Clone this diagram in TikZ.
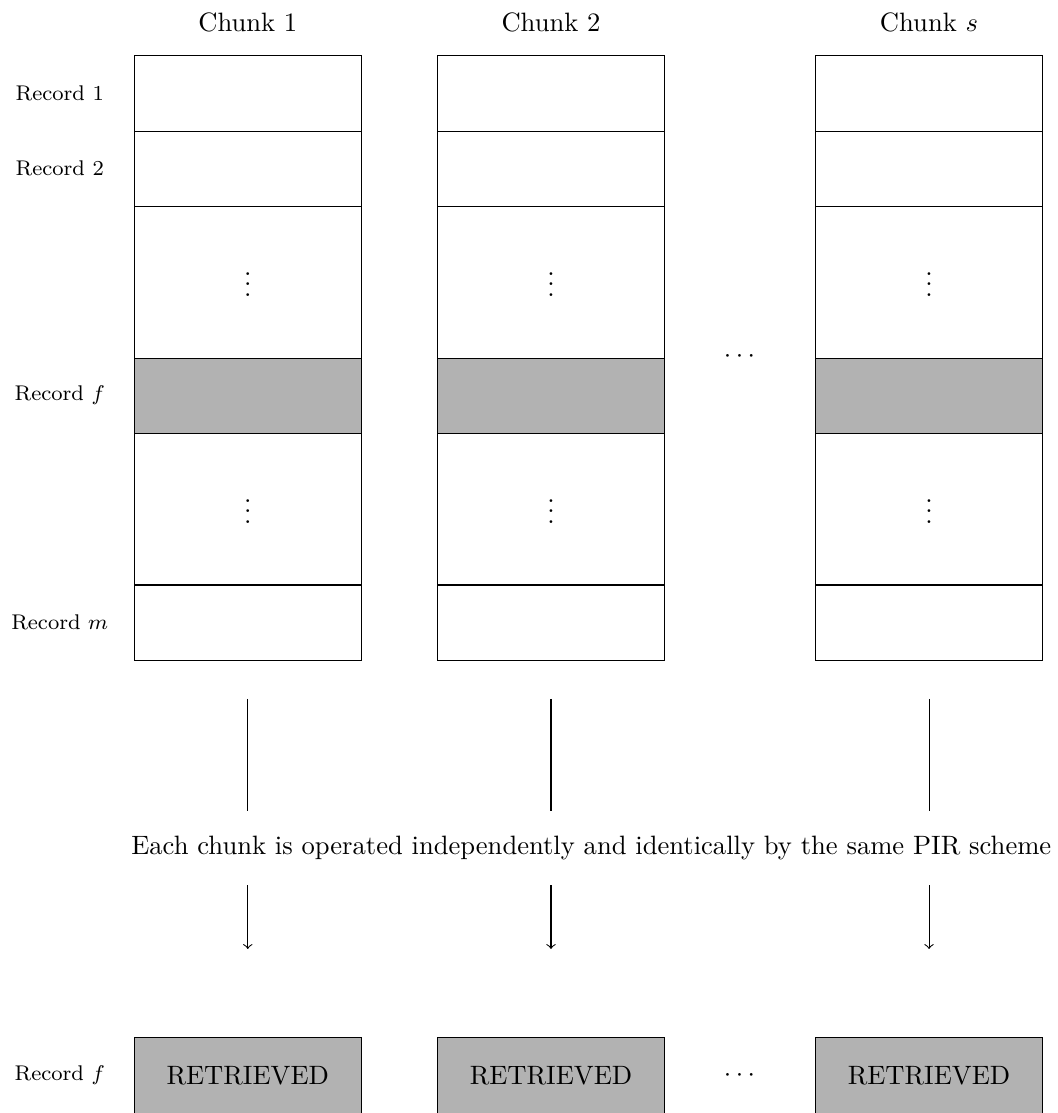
\documentclass[tikz,border=0pt]{standalone}
\usetikzlibrary{positioning,calc}
\begin{document}
\begin{tikzpicture}[
  cell/.style={draw=black, minimum width=3cm, minimum height=#1cm, inner sep=0pt, anchor=north west},
  cell/.default=1,
  hit/.style={fill=black!30},
  reclabel/.style={font=\footnotesize},
  conn/.style={draw=black, line width=0.4pt}
]
\useasboundingbox (0,0) rectangle (13.98,-14.72);

% columns
\foreach \c/\x in {1/1.77, 2/5.78, 3/10.78} {
  \node[cell=1] (c\c r1) at (\x,-0.73) {};
  \node[cell=1] (c\c r2) at (\x,-1.73) {};
  \node[cell=2] (c\c r3) at (\x,-2.73) {};
  \node[cell=1, hit] (c\c r4) at (\x,-4.73) {};
  \node[cell=2] (c\c r5) at (\x,-5.73) {};
  \node[cell=1] (c\c r6) at (\x,-7.73) {};
  \node[cell=1, hit] (c\c res) at (\x,-13.72) {RETRIEVED};
  \node[inner sep=0pt] (v\c a) at ($(c\c r3.center)+(0,0.08)$) {$\vdots$};
  \node[inner sep=0pt] (v\c b) at ($(c\c r5.center)+(0,0.08)$) {$\vdots$};
}

% headers
\node (h1) at (c1r1.north |- 0,-0.29) {Chunk 1};
\node (h2) at (c2r1.north |- 0,-0.29) {Chunk 2};
\node (h3) at (c3r1.north |- 0,-0.29) {Chunk $s$};

% record labels
\node[reclabel] (l1) at (0.79,-1.23) {Record 1};
\node[reclabel] (l2) at (0.79,-2.23) {Record 2};
\node[reclabel] (lf) at (0.79,-5.23) {Record $f$};
\node[reclabel] (lm) at (0.79,-8.23) {Record $m$};
\node[reclabel] (lb) at (0.79,-14.22) {Record $f$};

% dots between columns
\node (d1) at (9.78,-4.72) {$\cdots$};
\node (d2) at (9.78,-14.22) {$\cdots$};

% middle text
\node (txt) at (7.82,-11.22) {Each chunk is operated independently and identically by the same PIR scheme};

% connectors
\foreach \c in {1,2,3} {
  \coordinate (a\c) at ($(c\c r6.south)+(0,-0.5)$);
  \coordinate (b\c) at (a\c |- 0,-10.72);
  \coordinate (e\c) at (a\c |- 0,-11.71);
  \coordinate (f\c) at (a\c |- 0,-12.55);
  \draw[conn] (a\c) -- (b\c);
  \draw[conn,->] (e\c) -- (f\c);
}
\end{tikzpicture}
\end{document}
